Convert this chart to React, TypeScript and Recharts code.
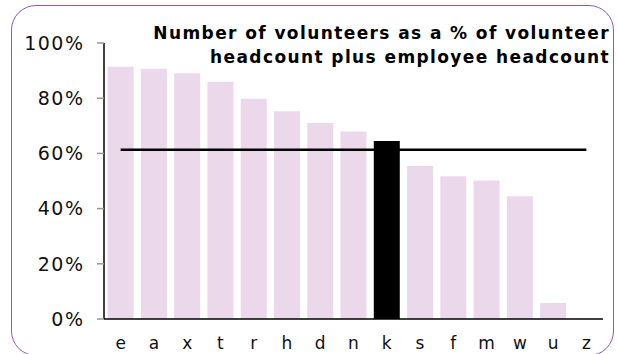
import React from "react";
import { BarChart, Bar, XAxis, YAxis, Cell, ReferenceLine } from "recharts";

const categories = ["e", "a", "x", "t", "r", "h", "d", "n", "k", "s", "f", "m", "w", "u", "z"];
const values = [91.4, 90.7, 89.0, 86.0, 79.8, 75.3, 71.0, 67.9, 64.5, 55.4, 51.7, 50.2, 44.5, 5.8, 0];
const yTicks = [0, 20, 40, 60, 80, 100];
const averageValue = 61.3;
const highlighted = "k";
const titleLines = ["Number of volunteers as a % of volunteer", "headcount plus employee headcount"];

const data = categories.map((c, i) => ({ name: c, value: values[i] }));

const FONT = "'DejaVu Sans', Verdana, sans-serif";

export default function App() {
  return (
    <div style={{ position: "absolute", left: 0, top: 0, width: 617, height: 354, overflow: "hidden", background: "#fff" }}>
      <div
        style={{
          position: "absolute",
          left: 11,
          top: 5,
          width: 603,
          height: 351,
          border: "1.6px solid #8a58c4",
          borderRadius: 25,
          boxSizing: "border-box",
        }}
      />
      <BarChart
        width={617}
        height={354}
        data={data}
        margin={{ top: 43, right: 14, bottom: 0, left: 0 }}
        barCategoryGap="11%"
        style={{ position: "absolute", left: 0, top: 0 }}
      >
        <XAxis
          dataKey="name"
          height={35}
          tickLine={false}
          axisLine={{ stroke: "#000", strokeWidth: 1.5 }}
          tickMargin={12}
          tick={{ fill: "#111", fontSize: 17, fontFamily: FONT }}
          interval={0}
        />
        <YAxis
          width={104}
          domain={[0, 100]}
          ticks={yTicks}
          tickFormatter={(v: number) => `${v}%`}
          axisLine={{ stroke: "#000", strokeWidth: 1.5 }}
          tickLine={{ stroke: "#999", strokeWidth: 1.5 }}
          tickSize={7}
          tickMargin={12.5}
          tick={{ fill: "#111", fontSize: 19, fontFamily: FONT, letterSpacing: 1.5 }}
          interval={0}
        />
        <Bar dataKey="value" isAnimationActive={false}>
          {data.map((d) => (
            <Cell key={d.name} fill={d.name === highlighted ? "#000" : "#ebd9eb"} />
          ))}
        </Bar>
        <ReferenceLine
          segment={[
            { x: categories[0], y: averageValue },
            { x: categories[categories.length - 1], y: averageValue },
          ]}
          stroke="#000"
          strokeWidth={2.5}
        />
      </BarChart>
      <div
        style={{
          position: "absolute",
          right: 617 - 610,
          top: 21,
          textAlign: "right",
          fontFamily: FONT,
          fontWeight: "bold",
          fontSize: 17,
          letterSpacing: 1.4,
          lineHeight: "24px",
          color: "#000",
          whiteSpace: "nowrap",
        }}
      >
        {titleLines.map((t) => (
          <div key={t}>{t}</div>
        ))}
      </div>
    </div>
  );
}
